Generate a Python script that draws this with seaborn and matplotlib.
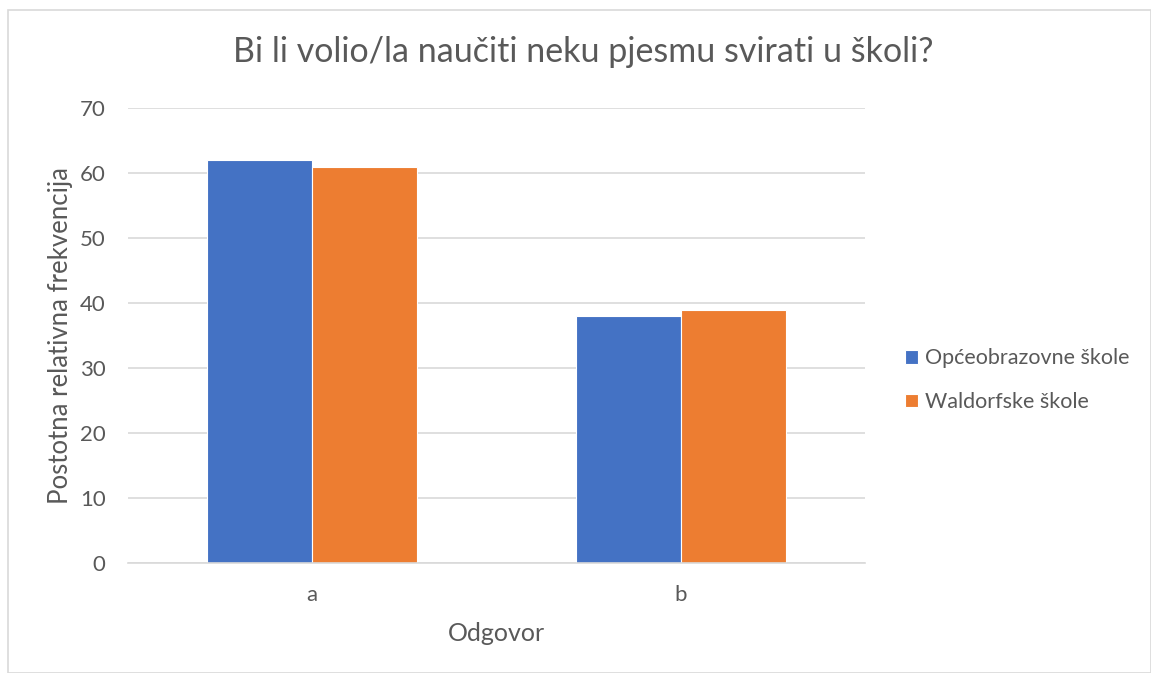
import pandas as pd
import seaborn as sns
import matplotlib.pyplot as plt
from matplotlib.patches import Rectangle

categories = ['a', 'b']
series_names = ['Općeobrazovne škole', 'Waldorfske škole']
opce_values = [62, 38]
waldorf_values = [61, 39]
colors = ['#4472C4', '#ED7D31']

df = pd.DataFrame({
    'Odgovor': categories * 2,
    'value': opce_values + waldorf_values,
    'skola': [series_names[0]] * 2 + [series_names[1]] * 2,
})

sns.set_theme(style='white')
plt.rcParams['font.family'] = ['Lato', 'DejaVu Sans']
text_col = '#595959'

fig = plt.figure(figsize=(11.51, 6.73), dpi=100)
ax = fig.add_axes([0.111, 0.1634, 0.6405, 0.6761])

sns.barplot(data=df, x='Odgovor', y='value', hue='skola', palette=colors,
            saturation=1, width=0.57, edgecolor='white', linewidth=0.8,
            ax=ax, legend=True)

ax.set_ylim(0, 70)
ax.set_yticks(range(0, 71, 10))
ax.set_xlim(-0.5, 1.5)
ax.yaxis.grid(True, color='#d9d9d9', linewidth=1.2)
ax.set_axisbelow(True)
for s in ['top', 'right', 'left']:
    ax.spines[s].set_visible(False)
ax.spines['bottom'].set_color('#d9d9d9')
ax.spines['bottom'].set_linewidth(1.2)
ax.tick_params(axis='y', length=0, labelsize=16, colors=text_col, pad=16)
ax.tick_params(axis='x', length=0, labelsize=16, colors=text_col, pad=16)

ax.set_xlabel('Odgovor', fontsize=18, color=text_col, labelpad=12)
ax.set_ylabel('Postotna relativna frekvencija', fontsize=18.5, color=text_col, labelpad=5)
fig.suptitle('Bi li volio/la naučiti neku pjesmu svirati u školi?', fontsize=24.5,
             color=text_col, x=0.507, y=0.923, va='center')

handles, labels = ax.get_legend_handles_labels()
ax.legend(handles, labels, loc='center left', bbox_to_anchor=(1.054, 0.402),
          borderaxespad=0, borderpad=0,
          frameon=False, fontsize=15.5, labelcolor=text_col, handlelength=0.6,
          handleheight=0.6, handletextpad=0.35, labelspacing=1.1)

fig.patches.append(Rectangle((8 / 1151, 0), 1 - 8 / 1151, 1 - 10 / 673,
                             transform=fig.transFigure, fill=False,
                             edgecolor='#d9d9d9', linewidth=1.2))

fig.savefig('out.png', dpi=100)
